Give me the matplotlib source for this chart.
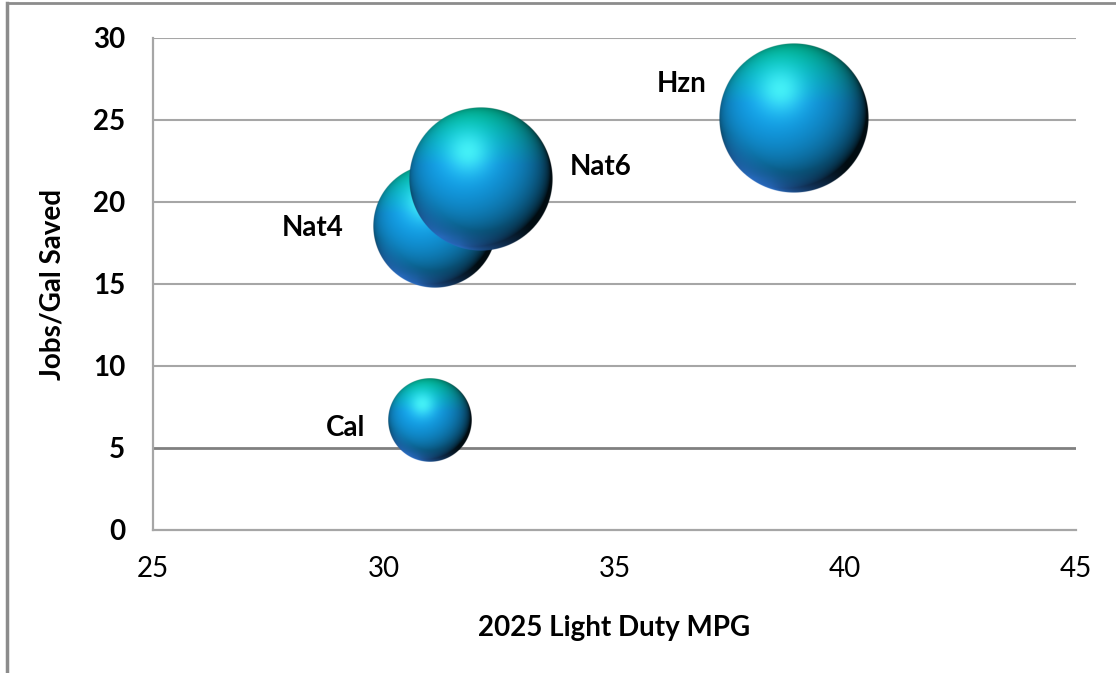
import numpy as np
import matplotlib
matplotlib.use("Agg")
import matplotlib.pyplot as plt
from matplotlib.lines import Line2D

plt.rcParams.update({
    'font.family': ['Lato', 'DejaVu Sans'],
    'font.size': 20,
})

# --- data ---
names = ['Cal', 'Nat4', 'Nat6', 'Hzn']
mpg_2025 = [31.0, 31.1, 32.1, 38.9]
jobs_per_gal = [6.7, 18.5, 21.4, 25.1]
bubble_size = [0.31, 0.68, 0.92, 1.00]

x_ticks = [25, 30, 35, 40, 45]
y_ticks = [0, 5, 10, 15, 20, 25, 30]

# label offsets (pixels) relative to bubble centre
label_offsets = [(-84, -8), (-122, -1), (120, 12), (-113, 34)]
MAX_RADIUS_PX = 75


def sphere_rgba(n=320):
    """Shaded ball image (RGBA) with light coming from the upper left."""
    t = np.linspace(-1, 1, n)
    u, v = np.meshgrid(t, -t)
    r = np.hypot(u, v)
    z = np.sqrt(np.clip(1 - r**2, 0, 1))

    light = np.array([-0.25, 0.35, 0.9])
    light /= np.linalg.norm(light)
    diff = np.clip(u * light[0] + v * light[1] + z * light[2], 0, 1)

    top = np.array([0.0, 0.82, 0.66])
    mid = np.array([0.07, 0.60, 0.88])
    w = np.clip((v - 0.2) / 0.8, 0, 1)[..., None]
    base = mid * (1 - w) + top * w
    col = base * (0.08 + 1.0 * diff[..., None] ** 0.75)

    # soft cyan highlight
    spec = np.exp(-((u + 0.18)**2 + (v - 0.38)**2) / 0.09)[..., None] * 0.85
    col = col * (1 - spec) + np.array([0.30, 0.98, 0.98]) * spec

    # light reflection along the lower rim
    rim = (np.clip((r - 0.72) / 0.28, 0, 1)
           * np.clip((-v - 0.2) / 0.6, 0, 1)
           * np.clip((0.7 - u) / 1.0, 0, 1))
    rim = rim[..., None] * 0.8
    col = col * (1 - rim) + np.array([0.20, 0.52, 0.94]) * rim

    col = np.clip(col, 0, 1)
    alpha = np.clip((1 - r) * n / 2.0, 0, 1)
    return np.dstack([col, alpha])


fig = plt.figure(figsize=(11.16, 6.73), dpi=100)
ax = fig.add_axes([153 / 1116, 1 - 530 / 673, 923 / 1116, 492 / 673])

ax.set_xlim(25, 45)
ax.set_ylim(0, 30)
ax.set_xticks(x_ticks)
ax.set_yticks(y_ticks)
ax.tick_params(axis='both', length=0)
ax.tick_params(axis='x', pad=19, labelsize=20)
ax.tick_params(axis='y', pad=20, labelsize=20)
for lab in ax.get_yticklabels():
    lab.set_fontweight('bold')

for s in ['top', 'right']:
    ax.spines[s].set_visible(False)
for s in ['left', 'bottom']:
    ax.spines[s].set_color('#a6a6a6')
    ax.spines[s].set_linewidth(1.6)

for yv in y_ticks[1:]:
    ax.axhline(yv, color='#808080' if yv == 5 else '#a6a6a6',
               lw=2.0 if yv == 5 else 1.5, zorder=0)

ax.set_xlabel('2025 Light Duty MPG', fontweight='bold', fontsize=20)
ax.set_ylabel('Jobs/Gal Saved', fontweight='bold', fontsize=20)
ax.xaxis.set_label_coords(0.5, -0.173)
ax.yaxis.set_label_coords(-0.095, 0.5)

# bubbles as shaded balls, radius scaled by area
img = sphere_rgba()
inv = ax.transData.inverted()
for i, (x, y, s) in enumerate(zip(mpg_2025, jobs_per_gal, bubble_size)):
    rad = MAX_RADIUS_PX * np.sqrt(s / max(bubble_size))
    px, py = ax.transData.transform((x, y))
    (x0, y0), (x1, y1) = inv.transform([[px - rad, py - rad], [px + rad, py + rad]])
    ax.imshow(img, extent=[x0, x1, y0, y1], interpolation='antialiased',
              zorder=2 + i, aspect='auto')
    dx, dy = label_offsets[i]
    ax.annotate(names[i], (x, y), xytext=(dx, dy), textcoords='offset pixels',
                ha='center', va='center', fontweight='bold', fontsize=20, zorder=10)

ax.set_xlim(25, 45)
ax.set_ylim(0, 30)

# outer chart frame
fig.add_artist(Line2D([7 / 1116, 1], [1 - 3 / 673, 1 - 3 / 673],
                      color='#8c8c8c', lw=2, transform=fig.transFigure))
fig.add_artist(Line2D([7 / 1116, 7 / 1116], [0, 1 - 3 / 673],
                      color='#8c8c8c', lw=2.5, transform=fig.transFigure))

fig.savefig('out.png', dpi=100)
